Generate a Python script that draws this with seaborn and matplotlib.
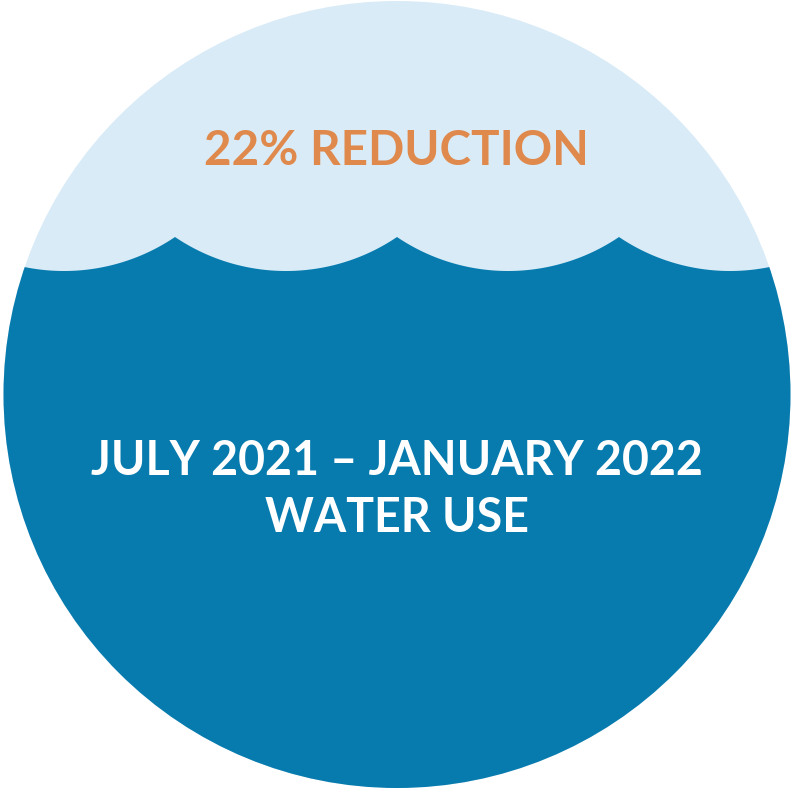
import numpy as np
import matplotlib
matplotlib.use("Agg")
import matplotlib.pyplot as plt
from matplotlib.patches import Circle
import seaborn as sns

# --- data / text ---
reduction_label = ["22% REDUCTION"]
period_label = ["JULY 2021 \u2013 JANUARY 2022", "WATER USE"]
wave_cusps_x = [175, 397, 619]          # crest positions of the wave
wave_crest_y = [237]
wave_trough_y = [271]

sns.set_theme(style="white")
plt.rcParams['font.family'] = ['Lato', 'DejaVu Sans']

W, H = 793, 791
fig = plt.figure(figsize=(W / 100, H / 100), dpi=100)
ax = fig.add_axes([0, 0, 1, 1])
ax.set_xlim(0, W)
ax.set_ylim(H, 0)
ax.axis("off")

light = "#D8EBF7"
dark = "#087BAE"
orange = "#E0894C"

cx, cy, r = 397, 394.5, 393.5
bg = Circle((cx, cy), r, facecolor=light, edgecolor="none", zorder=1)
ax.add_patch(bg)

# wave profile: circular arcs between crests
spacing = wave_cusps_x[1] - wave_cusps_x[0]
half = spacing / 2
depth = wave_trough_y[0] - wave_crest_y[0]
R = (half ** 2 + depth ** 2) / (2 * depth)
centers = [wave_cusps_x[0] - half] + [x + half for x in wave_cusps_x]
xs = np.linspace(0, W, 2000)
ys = np.full_like(xs, np.inf)
for xm in centers:
    dx = np.clip(np.abs(xs - xm), 0, half)
    y = wave_trough_y[0] - R + np.sqrt(R ** 2 - dx ** 2)
    ys = np.minimum(ys, np.where(np.abs(xs - xm) <= half, y, np.inf))
ys = np.where(np.isinf(ys), wave_crest_y[0], ys)

clip = Circle((cx, cy), r, transform=ax.transData)
fb = ax.fill_between(xs, ys, H, color=dark, linewidth=0, zorder=2)
fb.set_clip_path(clip)

ax.text(cx - 1, 151, reduction_label[0], color=orange, fontsize=34.3,
        fontweight="bold", ha="center", va="center", zorder=3)
ax.text(cx, 461, period_label[0], color="white", fontsize=33.5,
        fontweight="bold", ha="center", va="center", zorder=3)
ax.text(cx, 518, period_label[1], color="white", fontsize=33.5,
        fontweight="bold", ha="center", va="center", zorder=3)

fig.savefig("out.png", dpi=100, facecolor="white")
